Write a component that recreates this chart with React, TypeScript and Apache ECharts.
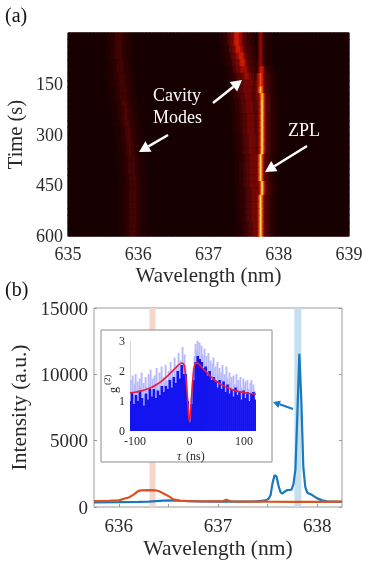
import React, { useEffect, useRef } from "react";
import * as echarts from "echarts";

const FONT = "'Liberation Serif', serif";

// Panel (a): spectrogram rows. Each token = level letter + first column of that run (0.02 nm columns, 20 s rows).
const heatRows = [
  "a0 b27 c31 d34 c39 b42 a46 b108 c111 e114 f116 g118 h119 g122 f124 e125 d127 c130 b133 c135 f136 g137 f138 c139 b141 a145",
  "a0 b27 c31 d34 c39 b42 a46 b108 c111 e114 f116 g118 h119 g122 f124 e125 d127 c130 b133 c135 f136 g137 f138 c139 b141 a145",
  "a0 b27 c31 d34 c39 b42 a46 b109 c112 e115 f117 g119 h120 g123 f125 e126 d128 c131 b134 c135 f136 g137 f138 c139 b141 a145",
  "a0 b27 c31 d34 c39 b42 a46 b110 c113 e116 f118 g120 h122 g125 f126 e127 d129 c132 b134 c135 f136 g137 f138 c139 b141 a145",
  "a0 b28 c32 d35 c40 b43 a47 b111 c114 e117 f119 g122 h123 g126 f127 e128 d130 c133 d135 f136 g137 f138 c139 b141 a145",
  "a0 b28 c32 d35 c40 b43 a47 b112 c115 e118 f120 g123 f128 e129 d131 c134 d135 g136 h137 g139 d140 c142 b144 a147",
  "a0 b29 c33 d36 c41 b44 a48 b113 c116 d119 e121 f124 g126 f129 e131 d133 e134 g135 h136 i137 h138 g139 e140 d142 c144 b146 a149",
  "a0 b29 c33 d36 c41 b44 a48 b114 c117 d120 e122 f125 e132 f134 g135 h136 i137 h138 g139 e140 d142 c144 b146 a149",
  "a0 b30 c34 d37 c42 b45 a49 b114 c117 d120 e122 f125 e131 f134 g135 i136 j137 i138 g139 e140 d142 c144 b146 a149",
  "a0 b30 c34 d37 c42 b45 a49 b115 c118 d121 e123 f126 e131 f134 g136 i137 j138 i139 g140 e141 d143 c145 b147 a150",
  "a0 b31 c35 d38 e40 d41 c43 b46 a50 b116 c119 d122 e124 f127 e132 f135 g136 i137 k138 i139 g140 e141 d143 c145 b147 a150",
  "a0 b32 c36 d39 e41 d42 c44 b47 a51 b116 c119 d122 e124 f127 e132 f135 g136 i137 k138 i139 g140 e141 d143 c145 b147 a150",
  "a0 b32 c36 d39 e41 d42 c44 b47 a51 b117 c120 d123 e125 f128 e133 f135 g136 i137 k138 i139 g140 e141 d143 c145 b147 a150",
  "a0 b33 c37 d40 e42 d43 c45 b48 a52 b117 c120 d123 e125 f128 e133 f135 g136 i137 k138 i139 g140 e141 d143 c145 b147 a150",
  "a0 b34 c38 d41 e43 d44 c46 b49 a53 b117 c120 d123 e125 f128 e133 f135 g136 i137 k138 i139 g140 e141 d143 c145 b147 a150",
  "a0 b34 c38 d41 e43 d44 c46 b49 a53 b118 c121 d124 e126 f129 e134 f135 g136 i137 k138 i139 g140 e141 d143 c145 b147 a150",
  "a0 b35 c39 d42 e44 d45 c47 b50 a54 b118 c121 d124 e126 f129 e134 f135 g136 i137 k138 i139 g140 e141 d143 c145 b147 a150",
  "a0 b35 c39 d42 e44 d45 c47 b50 a54 b118 c121 d124 e126 f129 e134 f135 g136 i137 k138 i139 g140 e141 d143 c145 b147 a150",
  "a0 b36 c40 d43 c48 b51 a55 b119 c122 d125 e127 f130 g135 i136 k137 i138 g139 e140 d142 c144 b146 a149",
  "a0 b36 c40 d43 c48 b51 a55 b119 c122 d125 e127 f130 g135 i136 k137 i138 g139 e140 d142 c144 b146 a149",
  "a0 b36 c40 d43 c48 b51 a55 b119 c122 d125 e127 f130 g135 i136 k137 i138 g139 e140 d142 c144 b146 a149",
  "a0 b37 c41 d44 c49 b52 a56 b119 c122 d125 e127 f130 g135 i136 k137 i138 g139 e140 d142 c144 b146 a149",
  "a0 b37 c41 d44 c49 b52 a56 b119 c122 d125 e127 f130 g136 i137 k138 i139 g140 e141 d143 c145 b147 a150",
  "a0 b37 c41 d44 c49 b52 a56 b120 c123 d126 e128 f131 g136 i137 k138 i139 g140 e141 d143 c145 b147 a150",
  "a0 b37 c41 d44 c49 b52 a56 b120 c123 d126 e128 f131 g135 i136 k137 i138 g139 e140 d142 c144 b146 a149",
  "a0 b37 c41 d44 c49 b52 a56 b120 c123 d126 e128 f131 g135 i136 k137 i138 g139 e140 d142 c144 b146 a149",
  "a0 b37 c41 d44 c49 b52 a56 b120 c123 d126 e128 f131 g135 i136 k137 i138 g139 e140 d142 c144 b146 a149",
  "a0 b37 c41 d44 c49 b52 a56 b120 c123 d126 e128 f131 g135 i136 k137 i138 g139 e140 d142 c144 b146 a149",
  "a0 b37 c41 d44 c49 b52 a56 b121 c124 d127 e129 f132 g135 i136 k137 i138 g139 e140 d142 c144 b146 a149",
  "a0 b37 c41 d44 c49 b52 a56 b121 c124 d127 e129 f132 g135 i136 k137 i138 g139 e140 d142 c144 b146 a149",
];
const heatColors = ["#1a0003", "#230003", "#300204", "#420505", "#560707", "#720907", "#9c0e06", "#cc1c06", "#f45a08", "#ffc030", "#fff070"];
const heatColumnCount = 200;

// Panel (b): spectra, [wavelength nm, intensity a.u.]
const blueSpectrum = [
  [635.75, 350], [636, 360], [636.2, 385], [636.3, 400], [636.45, 480], [636.5, 500], [636.6, 470], [636.8, 420], [637, 400],
  [637.2, 410], [637.4, 430], [637.48, 500], [637.51, 620], [637.53, 900], [637.55, 1800], [637.57, 2400], [637.59, 2300], [637.61, 1600],
  [637.63, 1120], [637.65, 1020], [637.67, 1150], [637.7, 1280], [637.74, 1300], [637.76, 1700], [637.78, 2800], [637.8, 7000], [637.82, 11550],
  [637.84, 8000], [637.86, 3000], [637.88, 1500], [637.9, 1080], [637.95, 900], [638, 650], [638.05, 500], [638.1, 430], [638.25, 380],
];
const orangeSpectrum = [
  [635.75, 450], [635.9, 460], [636, 500], [636.06, 640], [636.1, 720], [636.15, 930], [636.19, 1180], [636.22, 1250], [636.3, 1270],
  [636.37, 1260], [636.41, 1180], [636.46, 980], [636.51, 780], [636.55, 580], [636.62, 480], [636.7, 440], [637, 420], [637.05, 430], [637.08, 540],
  [637.13, 430], [637.3, 410], [637.5, 400], [637.8, 390], [638, 380], [638.25, 400],
];
const orangeBand = [636.31, 636.37];
const blueBand = [637.77, 637.84];
const spectrumXTicks = [636, 636.5, 637, 637.5, 638];
const spectrumXLabels = [636, 637, 638];

// Inset: g2 histogram. Pale spikes use 1.83 ns bins from -109 ns; solid body uses 3.65 ns bins.
const g2Peaks = [
  1.45, 1.7, 1.3, 1.85, 1.2, 1.55, 1.9, 1.35, 1.65, 1.25, 1.75, 1.5, 1.95, 1.3, 1.6, 1.2, 1.8, 1.45, 1.35, 1.9,
  1.55, 2.05, 1.4, 1.75, 1.25, 1.85, 1.5, 2.1, 1.6, 1.35, 1.95, 1.55, 2.15, 1.45, 1.8, 1.6, 2.2, 1.7, 1.55, 2.0,
  1.75, 2.3, 1.65, 2.0, 1.8, 2.45, 1.9, 2.2, 1.75, 2.6, 2.05, 2.35, 2.0, 2.8, 2.25, 2.55, 2.2, 1.7, 1.1, 0.7,
  0.4, 0.7, 1.1, 1.6, 2.1, 2.5, 2.9, 2.7, 3.0, 2.6, 2.95, 2.4, 2.85, 2.55, 2.3, 2.75, 2.2, 2.5, 2.1, 2.6,
  2.0, 2.35, 1.8, 2.25, 2.45, 1.9, 2.15, 1.65, 2.3, 1.85, 2.1, 1.55, 1.95, 2.2, 1.7, 1.9, 1.5, 2.15, 1.75, 1.45,
  1.95, 1.6, 1.8, 1.35, 1.85, 1.55, 1.3, 1.9, 1.5, 1.7, 1.3, 1.8, 1.45, 1.25, 1.75, 1.5, 1.65, 1.2, 1.7, 1.4,
  1.25, 1.6, 1.7, 1.3, 1.55, 1.35,
];
const g2Body = [
  1.0, 1.3, 0.9, 1.2, 1.0, 1.35, 1.1, 0.85, 1.25, 1.05, 1.4, 1.15, 1.4, 1.1, 1.35, 1.2, 1.5, 1.3, 1.5, 1.4, 1.7, 1.45, 1.8, 1.6, 2.0, 1.75, 2.2, 1.9, 1.9, 1.0,
  0.3, 0.9, 1.7, 2.3, 2.5, 2.4, 2.3, 2.1, 2.15, 1.85, 2.0, 1.7, 1.8, 1.65, 1.45, 1.7, 1.4, 1.65, 1.3, 1.55, 1.25, 1.4, 1.15, 1.45, 1.2, 1.3, 1.05, 1.35, 1.1, 1.3, 1.0, 1.25, 1.3, 1.05,
];
const g2Fit = [
  [-109, 1.27], [-100, 1.29], [-90, 1.33], [-80, 1.38], [-70, 1.45], [-60, 1.55], [-50, 1.68], [-40, 1.84], [-30, 2.02], [-20, 2.2], [-15, 2.26], [-12, 2.26],
  [-10, 2.2], [-8, 2.0], [-6, 1.65], [-4, 1.2], [-2, 0.65], [0, 0.3], [2, 0.65], [4, 1.2], [6, 1.7], [8, 2.05], [10, 2.22], [13, 2.27], [16, 2.25], [20, 2.18],
  [30, 1.98], [40, 1.8], [50, 1.65], [60, 1.53], [70, 1.44], [80, 1.37], [90, 1.32], [100, 1.28], [110, 1.25], [122, 1.23],
];
const g2XLabels = [-100, 0, 100];

const GREY = "#9a9a9a";
const TXT = "#2a2a2a";
const BLUE = "#1a78bd";
const ORANGE = "#d9531e";

function decodeHeat() {
  const out: any[] = [];
  heatRows.forEach((row, r) => {
    const tokens = row.split(" ").map((t) => ({ level: t.charCodeAt(0) - 97, start: Number(t.slice(1)) }));
    tokens.forEach((t, i) => {
      const end = i + 1 < tokens.length ? tokens[i + 1].start : heatColumnCount;
      for (let c = t.start; c < end; c++) {
        out.push({ value: [c, r, t.level], itemStyle: { borderColor: heatColors[t.level], borderWidth: 0.6 } });
      }
    });
  });
  return out;
}

function arrow(from: number[], to: number[], color: string, width: number, head: number) {
  const a = Math.atan2(to[1] - from[1], to[0] - from[0]);
  const bx = to[0] - Math.cos(a) * head;
  const by = to[1] - Math.sin(a) * head;
  const nx = -Math.sin(a) * head * 0.55;
  const ny = Math.cos(a) * head * 0.55;
  return [
    { type: "line", z: 20, shape: { x1: from[0], y1: from[1], x2: bx, y2: by }, style: { stroke: color, lineWidth: width } },
    { type: "polygon", z: 20, shape: { points: [to, [bx + nx, by + ny], [bx - nx, by - ny]] }, style: { fill: color } },
  ];
}

function label(text: string, x: number, y: number, size: number, fill: string, extra: any = {}) {
  return {
    type: "text", z: 20, x, y, ...extra,
    style: { text, fill, fontSize: size, fontFamily: FONT, textAlign: extra.align ?? "left", textVerticalAlign: "middle", textBaseline: "middle", fontStyle: extra.fontStyle },
  };
}

export default function App() {
  const ref = useRef<HTMLDivElement>(null);
  useEffect(() => {
    document.body.style.margin = "0";
    const chart = echarts.init(ref.current!, undefined, { renderer: "svg" });
    const cols = Array.from({ length: heatColumnCount }, (_, i) => String(635 + (i + 0.5) * 0.02));
    const rows = heatRows.map((_, i) => String((i + 0.5) * 20));
    chart.setOption({
      animation: false,
      backgroundColor: "#fff",
      textStyle: { fontFamily: FONT },
      grid: [
        { left: 68, top: 33, width: 281, height: 203, show: true, borderColor: GREY, borderWidth: 1, backgroundColor: heatColors[0], outerBoundsMode: "none" },
        { left: 94, top: 308, width: 248, height: 199, show: true, borderColor: GREY, borderWidth: 1, backgroundColor: "transparent", outerBoundsMode: "none" },
        { left: 130, top: 341, width: 126, height: 90, outerBoundsMode: "none" },
      ],
      xAxis: [
        { type: "category", gridIndex: 0, data: cols, show: false },
        {
          type: "value", gridIndex: 0, min: 635, max: 639, interval: 1, position: "bottom",
          axisLine: { show: false }, axisTick: { show: false }, splitLine: { show: false },
          axisLabel: { fontSize: 18, color: TXT, margin: 9, hideOverlap: false, formatter: (v: number) => String(v) },
          name: "Wavelength (nm)", nameLocation: "middle", nameGap: 28, nameTextStyle: { fontSize: 21, color: TXT },
        },
        {
          type: "value", gridIndex: 1, min: 635.75, max: 638.25, position: "bottom",
          axisLine: { show: false, onZero: false }, splitLine: { show: false },
          axisTick: { show: true, inside: true, length: 3, lineStyle: { color: GREY }, customValues: spectrumXTicks },
          axisLabel: { fontSize: 19, color: TXT, margin: 9, customValues: spectrumXLabels, formatter: (v: number) => String(v) },
          name: "Wavelength (nm)", nameLocation: "middle", nameGap: 30, nameTextStyle: { fontSize: 21.5, color: TXT },
        },
        {
          type: "value", gridIndex: 2, min: -109, max: 122, position: "bottom", z: 10,
          axisLine: { show: false, onZero: false }, axisTick: { show: false }, splitLine: { show: false },
          axisLabel: { fontSize: 12, color: TXT, margin: 4, customValues: g2XLabels, formatter: (v: number) => String(v) },
        },
      ],
      yAxis: [
        { type: "category", gridIndex: 0, data: rows, inverse: true, show: false },
        {
          type: "value", gridIndex: 0, min: 0, max: 600, interval: 150, inverse: true, position: "left",
          axisLine: { show: false }, axisTick: { show: false }, splitLine: { show: false },
          axisLabel: { fontSize: 18, color: TXT, margin: 5, formatter: (v: number) => (v === 0 ? "" : String(v)) },
          name: "Time (s)", nameLocation: "middle", nameGap: 31, nameTextStyle: { fontSize: 20.5, color: TXT },
        },
        {
          type: "value", gridIndex: 1, min: 0, max: 15000, interval: 5000, position: "left",
          axisLine: { show: false }, splitLine: { show: false },
          axisTick: { show: true, inside: true, length: 3, lineStyle: { color: GREY } },
          axisLabel: { fontSize: 19, color: TXT, margin: 6, formatter: (v: number) => String(v) },
          name: "Intensity (a.u.)", nameLocation: "middle", nameGap: 51, nameTextStyle: { fontSize: 21.5, color: TXT },
        },
        {
          type: "value", gridIndex: 1, min: 0, max: 15000, interval: 5000, position: "right",
          axisLine: { show: false }, splitLine: { show: false },
          axisTick: { show: true, inside: true, length: 3, lineStyle: { color: GREY } },
          axisLabel: { show: false },
        },
        {
          type: "value", gridIndex: 2, min: 0, max: 3, interval: 1, position: "left", z: 10,
          axisLine: { show: true, onZero: false, lineStyle: { color: "#d8d8d8", width: 1 } }, axisTick: { show: false }, splitLine: { show: false },
          axisLabel: { fontSize: 12, color: TXT, margin: 5 },
        },
      ],
      visualMap: {
        show: false, type: "continuous", seriesIndex: 0, dimension: 2, min: 0, max: heatColors.length - 1,
        inRange: { color: heatColors },
      },
      series: [
        {
          type: "heatmap", xAxisIndex: 0, yAxisIndex: 0, data: decodeHeat(), silent: true,
          emphasis: { disabled: true }, progressive: 0,
        },
        {
          type: "line", name: "Blue spectrum", xAxisIndex: 2, yAxisIndex: 2, data: blueSpectrum, showSymbol: false, z: 3,
          lineStyle: { color: BLUE, width: 2.2 }, silent: true,
          markArea: {
            silent: true, z: 1,
            data: [
              [{ xAxis: orangeBand[0], itemStyle: { color: "#f8d5ca" } }, { xAxis: orangeBand[1] }],
              [{ xAxis: blueBand[0], itemStyle: { color: "#c3dff0" } }, { xAxis: blueBand[1] }],
            ],
          },
        },
        {
          type: "line", name: "Orange spectrum", xAxisIndex: 2, yAxisIndex: 2, data: orangeSpectrum, showSymbol: false, z: 4,
          lineStyle: { color: ORANGE, width: 2.2 }, silent: true,
        },
        {
          type: "bar", name: "g2 peaks", xAxisIndex: 3, yAxisIndex: 4, z: 10, barWidth: 1.9, silent: true,
          data: g2Peaks.map((v, i) => [-109 + i * 1.83, v]), itemStyle: { color: "#b8b8fc" },
        },
        {
          type: "bar", name: "g2 body", xAxisIndex: 3, yAxisIndex: 4, z: 11, barWidth: 2.6, barGap: "-100%", silent: true,
          data: g2Body.map((v, i) => [-109 + i * 3.65, v]), itemStyle: { color: "#1414f0" },
        },
        {
          type: "line", name: "g2 fit", xAxisIndex: 3, yAxisIndex: 4, z: 12, data: g2Fit, showSymbol: false, smooth: 0.3, silent: true,
          lineStyle: { color: "#ee1c3c", width: 1.6 },
        },
      ],
      graphic: {
        elements: [
          { type: "rect", z: 5, shape: { x: 101, y: 330, width: 171, height: 132 }, style: { fill: "#fff", stroke: "#8c8c8c", lineWidth: 1 }, silent: true },
          label("(a)", 5, 15, 20, "#111"),
          label("(b)", 5, 289, 20, "#111"),
          label("Cavity", 153, 95, 18, "#fff"),
          label("Modes", 153, 117, 18, "#fff"),
          label("ZPL", 288, 130, 18, "#fff"),
          label("τ", 177, 456, 12, TXT, { fontStyle: "italic" }),
          label("(ns)", 186, 456, 12, TXT),
          label("g", 113, 393, 12, TXT, { rotation: Math.PI / 2 }),
          label("(2)", 107, 385, 9, TXT, { rotation: Math.PI / 2 }),
          ...arrow([213, 103], [242, 80], "#fff", 2.5, 11),
          ...arrow([168, 135], [139, 152], "#fff", 2.5, 11),
          ...arrow([307, 146], [265, 172], "#fff", 2.5, 11),
          ...arrow([293, 409], [273, 402], BLUE, 2.2, 7),
        ],
      },
    });
    return () => chart.dispose();
  }, []);
  return <div ref={ref} style={{ position: "absolute", left: 0, top: 0, width: 374, height: 566, filter: "blur(0.45px)" }} />;
}
